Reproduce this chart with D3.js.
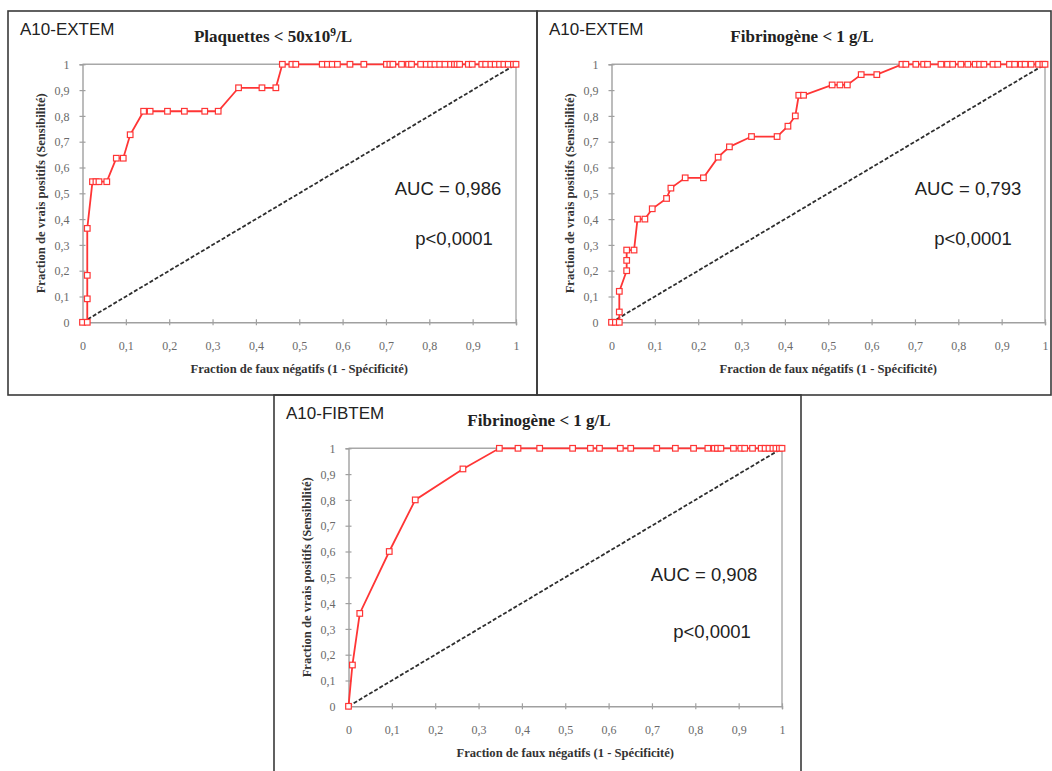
<!DOCTYPE html>
<html>
<head>
<meta charset="utf-8">
<script src="https://cdn.jsdelivr.net/npm/d3@7"></script>
<style>
  html, body { margin: 0; padding: 0; background: #fff; }
  svg { display: block; }
</style>
</head>
<body>
<svg id="chart" width="1052" height="771"></svg>
<script>
// ---------------- DATA ----------------
const tickValues = [0, 0.1, 0.2, 0.3, 0.4, 0.5, 0.6, 0.7, 0.8, 0.9, 1];
const tickLabels = ["0", "0,1", "0,2", "0,3", "0,4", "0,5", "0,6", "0,7", "0,8", "0,9", "1"];

const panelTags = ["A10-EXTEM", "A10-EXTEM", "A10-FIBTEM"];
const panelTitles = ["Plaquettes < 50x10", "Fibrinogène < 1 g/L", "Fibrinogène < 1 g/L"];
const aucTexts = ["AUC = 0,986", "AUC = 0,793", "AUC = 0,908"];
const pTexts = ["p<0,0001", "p<0,0001", "p<0,0001"];
const xAxisTitle = "Fraction de faux négatifs (1 - Spécificité)";
const yAxisTitle = "Fraction de vrais positifs (Sensibilité)";

// Panel 1 : A10-EXTEM, Plaquettes < 50x10^9/L
const plaqFpr = [0, 0.011, 0.011, 0.011, 0.011, 0.023, 0.031, 0.038, 0.056, 0.078, 0.094, 0.11,
  0.141, 0.156, 0.196, 0.235, 0.282, 0.313, 0.36, 0.414, 0.446,
  0.461, 0.483, 0.492, 0.553, 0.565, 0.576, 0.588, 0.617, 0.649, 0.701, 0.709, 0.716, 0.736,
  0.752, 0.759, 0.78, 0.793, 0.803, 0.813, 0.824, 0.836, 0.849, 0.858, 0.864, 0.87, 0.89,
  0.899, 0.921, 0.93, 0.942, 0.952, 0.962, 0.972, 0.982, 0.994, 1.0];
const plaqTpr = [0, 0, 0.091, 0.182, 0.364, 0.545, 0.545, 0.545, 0.545, 0.636, 0.636, 0.727,
  0.818, 0.818, 0.818, 0.818, 0.818, 0.818, 0.909, 0.909, 0.909,
  1, 1, 1, 1, 1, 1, 1, 1, 1, 1, 1, 1, 1,
  1, 1, 1, 1, 1, 1, 1, 1, 1, 1, 1, 1, 1,
  1, 1, 1, 1, 1, 1, 1, 1, 1, 1];

// Panel 2 : A10-EXTEM, Fibrinogène < 1 g/L
const fibExtFpr = [0, 0.009, 0.018, 0.018, 0.018, 0.035, 0.035, 0.035, 0.052, 0.06, 0.077, 0.094,
  0.127, 0.137, 0.17, 0.212, 0.246, 0.272, 0.323, 0.382, 0.407, 0.424, 0.432, 0.443,
  0.509, 0.527, 0.544, 0.576, 0.612,
  0.67, 0.679, 0.702, 0.72, 0.729, 0.76, 0.775, 0.787, 0.806, 0.822, 0.839, 0.849, 0.859,
  0.88, 0.891, 0.918, 0.93, 0.945, 0.954, 0.968, 0.985, 0.995, 1.0];
const fibExtTpr = [0, 0, 0, 0.04, 0.12, 0.2, 0.24, 0.28, 0.28, 0.4, 0.4, 0.44,
  0.48, 0.52, 0.56, 0.56, 0.64, 0.68, 0.72, 0.72, 0.76, 0.8, 0.88, 0.88,
  0.92, 0.92, 0.92, 0.96, 0.96,
  1, 1, 1, 1, 1, 1, 1, 1, 1, 1, 1, 1, 1,
  1, 1, 1, 1, 1, 1, 1, 1, 1, 1];

// Panel 3 : A10-FIBTEM, Fibrinogène < 1 g/L
const fibFibFpr = [0, 0.009, 0.026, 0.094, 0.154, 0.264,
  0.348, 0.391, 0.441, 0.517, 0.558, 0.579, 0.627, 0.651, 0.711, 0.754, 0.796, 0.829,
  0.844, 0.851, 0.859, 0.888, 0.905, 0.914, 0.932, 0.952, 0.961, 0.97, 0.979, 0.986, 0.994, 1.0];
const fibFibTpr = [0, 0.16, 0.36, 0.6, 0.8, 0.92,
  1, 1, 1, 1, 1, 1, 1, 1, 1, 1, 1, 1,
  1, 1, 1, 1, 1, 1, 1, 1, 1, 1, 1, 1, 1, 1];

const seriesFpr = [plaqFpr, fibExtFpr, fibFibFpr];
const seriesTpr = [plaqTpr, fibExtTpr, fibFibTpr];

// ---------------- LAYOUT ----------------
const frames = [
  { x: 8, y: 11, w: 529, h: 384, aucX: 440, aucY: 184, pX: 446, pY: 234 },
  { x: 537, y: 11, w: 514, h: 384, aucX: 431, aucY: 184, pX: 436, pY: 234 },
  { x: 274, y: 395, w: 527, h: 380, aucX: 430, aucY: 186, pX: 438, pY: 243 }
];
const plotOff = { x: 74.5, y: 53.3 };
const plotW = 433.5, plotH = 258;

const RED = "#ff3535";
const svg = d3.select("#chart");
svg.append("rect").attr("width", 1052).attr("height", 771).attr("fill", "#fff");

frames.forEach((f, i) => {
  const g = svg.append("g").attr("transform", `translate(${f.x},${f.y})`);

  // frame
  g.append("rect")
    .attr("x", 0).attr("y", 0).attr("width", f.w).attr("height", f.h)
    .attr("fill", "none").attr("stroke", "#3a3a3a").attr("stroke-width", 1.6);

  // tag
  g.append("text").attr("x", 12).attr("y", 24)
    .attr("font-family", "Liberation Sans, Arial, sans-serif")
    .attr("font-size", 17).attr("fill", "#222").text(panelTags[i]);

  // title
  const t = g.append("text").attr("x", 265).attr("y", 31)
    .attr("text-anchor", "middle")
    .attr("font-family", "Liberation Serif, Times New Roman, serif")
    .attr("font-weight", "bold").attr("font-size", 17).attr("fill", "#222");
  t.append("tspan").text(panelTitles[i]);
  if (i === 0) {
    t.append("tspan").attr("dy", -6).attr("font-size", 11.5).text("9");
    t.append("tspan").attr("dy", 6).text("/L");
  }

  const pg = g.append("g").attr("transform", `translate(${plotOff.x},${plotOff.y})`);
  const x = d3.scaleLinear().domain([0, 1]).range([0, plotW]);
  const y = d3.scaleLinear().domain([0, 1]).range([plotH, 0]);

  // plot border (top & right)
  pg.append("line").attr("x1", x(0)).attr("x2", x(1)).attr("y1", y(1)).attr("y2", y(1))
    .attr("stroke", "#a8a8a8").attr("stroke-width", 1.4);
  pg.append("line").attr("x1", x(1)).attr("x2", x(1)).attr("y1", y(0)).attr("y2", y(1))
    .attr("stroke", "#a8a8a8").attr("stroke-width", 1.4);

  // axes
  const fmt = v => tickLabels[tickValues.indexOf(v)];
  const xAxis = pg.append("g").attr("transform", `translate(0,${plotH})`)
    .call(d3.axisBottom(x).tickValues(tickValues).tickFormat(fmt).tickSize(3).tickPadding(0));
  const yAxis = pg.append("g")
    .call(d3.axisLeft(y).tickValues(tickValues).tickFormat(fmt).tickSize(3).tickPadding(0));

  [xAxis, yAxis].forEach(ax => {
    ax.select(".domain").attr("stroke", "#a0a0a0").attr("stroke-width", 1.4);
    ax.selectAll(".tick line").attr("stroke", "#a0a0a0").attr("stroke-width", 1.2);
    ax.selectAll(".tick text")
      .attr("font-family", "Liberation Serif, Times New Roman, serif")
      .attr("font-size", 12).attr("fill", "#6a6a6a");
  });
  xAxis.selectAll(".tick line").attr("y1", -3).attr("y2", 3);
  xAxis.selectAll(".tick text").attr("y", 25).attr("dy", "0.2em");
  yAxis.selectAll(".tick line").attr("x1", 3).attr("x2", -3);
  yAxis.selectAll(".tick text").attr("x", -13).attr("dy", "0.35em");

  // axis titles
  pg.append("text").attr("x", plotW / 2).attr("y", plotH + 51)
    .attr("text-anchor", "middle")
    .attr("font-family", "Liberation Serif, Times New Roman, serif")
    .attr("font-weight", "bold").attr("font-size", 12.6).attr("fill", "#333")
    .text(xAxisTitle);
  pg.append("text")
    .attr("transform", `translate(-38,${plotH / 2}) rotate(-90)`)
    .attr("text-anchor", "middle")
    .attr("font-family", "Liberation Serif, Times New Roman, serif")
    .attr("font-weight", "bold").attr("font-size", 12.6).attr("fill", "#333")
    .text(yAxisTitle);

  // diagonal reference line
  pg.append("line")
    .attr("x1", x(0)).attr("y1", y(0)).attr("x2", x(1)).attr("y2", y(1))
    .attr("stroke", "#2e2e2e").attr("stroke-width", 1.8).attr("stroke-dasharray", "4,2");

  // ROC curve
  const pts = seriesFpr[i].map((v, k) => [v, seriesTpr[i][k]]);
  pg.append("path").datum(pts)
    .attr("fill", "none").attr("stroke", RED).attr("stroke-width", 1.8)
    .attr("d", d3.line().x(d => x(d[0])).y(d => y(d[1])));
  pg.selectAll("rect.mk").data(pts).join("rect").attr("class", "mk")
    .attr("x", d => x(d[0]) - 2.8).attr("y", d => y(d[1]) - 2.8)
    .attr("width", 5.6).attr("height", 5.6)
    .attr("fill", "#fff").attr("stroke", RED).attr("stroke-width", 1.2);

  // AUC / p text
  g.append("text").attr("x", f.aucX).attr("y", f.aucY).attr("text-anchor", "middle")
    .attr("font-family", "Liberation Sans, Arial, sans-serif")
    .attr("font-size", 18.5).attr("fill", "#222").text(aucTexts[i]);
  g.append("text").attr("x", f.pX).attr("y", f.pY).attr("text-anchor", "middle")
    .attr("font-family", "Liberation Sans, Arial, sans-serif")
    .attr("font-size", 18.5).attr("fill", "#222").text(pTexts[i]);
});
</script>
</body>
</html>
